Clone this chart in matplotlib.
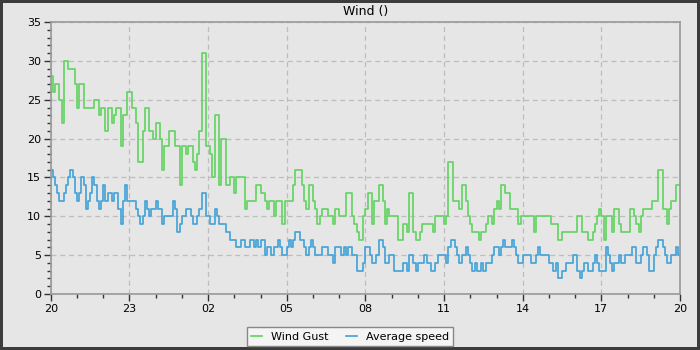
import numpy as np
import pandas as pd
import matplotlib
matplotlib.use('Agg')
import matplotlib.pyplot as plt
import matplotlib.dates as mdates
from matplotlib.ticker import MultipleLocator

# 5 minute samples, one row per hour (20h .. 19h)
gust = [
    28, 26, 27, 27, 25, 22, 30, 30, 29, 29, 29, 27,
    24, 27, 27, 24, 24, 24, 24, 24, 25, 25, 23, 24,
    24, 21, 24, 24, 22, 23, 24, 24, 19, 23, 23, 26,
    26, 24, 24, 22, 17, 17, 21, 24, 24, 21, 21, 20,
    22, 22, 20, 16, 19, 19, 21, 21, 21, 19, 19, 14,
    19, 19, 18, 19, 19, 17, 16, 18, 21, 31, 31, 19,
    19, 18, 15, 23, 23, 14, 20, 20, 14, 14, 15, 15,
    13, 15, 15, 15, 15, 11, 12, 12, 12, 12, 14, 14,
    13, 13, 12, 11, 12, 12, 10, 12, 12, 12, 9, 12,
    12, 12, 12, 14, 16, 16, 16, 14, 12, 11, 14, 14,
    12, 11, 9, 10, 11, 11, 11, 10, 10, 9, 11, 11,
    10, 10, 10, 13, 13, 13, 10, 9, 8, 7, 7, 10,
    11, 13, 13, 9, 12, 12, 14, 14, 12, 9, 11, 10,
    10, 10, 10, 7, 7, 9, 9, 8, 13, 13, 8, 7,
    7, 8, 9, 9, 9, 9, 9, 8, 10, 10, 10, 10,
    9, 10, 17, 17, 12, 12, 12, 11, 14, 14, 12, 10,
    9, 8, 8, 8, 7, 8, 8, 9, 10, 10, 9, 11,
    12, 11, 14, 14, 13, 13, 11, 11, 11, 11, 9, 10,
    10, 10, 10, 10, 10, 8, 10, 10, 10, 10, 10, 10,
    10, 9, 9, 9, 7, 7, 8, 8, 8, 8, 8, 8,
    8, 10, 10, 8, 8, 8, 7, 7, 8, 9, 10, 11,
    10, 7, 10, 10, 10, 8, 11, 11, 9, 8, 8, 8,
    8, 11, 11, 10, 9, 8, 10, 11, 11, 11, 11, 12,
    12, 12, 16, 16, 11, 11, 9, 11, 12, 12, 14, 14,
]

avg_speed = [
    16, 15, 14, 13, 12, 12, 13, 14, 15, 16, 15, 13,
    12, 13, 15, 14, 11, 12, 13, 15, 14, 12, 11, 12,
    14, 12, 13, 13, 12, 13, 13, 11, 9, 12, 14, 12,
    12, 12, 12, 11, 10, 9, 10, 12, 11, 10, 11, 11,
    12, 11, 11, 9, 10, 10, 10, 10, 12, 11, 8, 9,
    10, 10, 11, 11, 10, 9, 9, 10, 11, 13, 13, 10,
    10, 9, 9, 11, 10, 9, 9, 9, 8, 8, 7, 7,
    7, 6, 6, 7, 7, 6, 6, 7, 7, 6, 7, 6,
    7, 7, 5, 6, 6, 5, 6, 6, 7, 6, 5, 5,
    6, 7, 6, 7, 8, 8, 7, 7, 6, 5, 6, 7,
    6, 5, 5, 5, 6, 6, 6, 5, 5, 4, 6, 6,
    6, 5, 6, 5, 6, 6, 5, 5, 3, 3, 3, 4,
    6, 6, 5, 4, 4, 5, 7, 7, 6, 4, 4, 5,
    5, 3, 3, 3, 3, 4, 4, 3, 5, 5, 4, 3,
    4, 4, 4, 5, 4, 4, 3, 3, 4, 5, 5, 5,
    5, 4, 6, 7, 7, 6, 5, 4, 5, 5, 6, 5,
    4, 3, 4, 3, 3, 4, 3, 4, 4, 4, 5, 6,
    6, 5, 6, 7, 6, 6, 6, 7, 6, 5, 4, 4,
    5, 5, 5, 5, 4, 4, 5, 6, 5, 5, 5, 5,
    4, 4, 3, 4, 2, 2, 3, 3, 4, 4, 4, 5,
    5, 3, 2, 3, 4, 4, 3, 3, 4, 5, 4, 3,
    3, 3, 6, 5, 4, 3, 4, 4, 5, 4, 4, 5,
    5, 5, 6, 6, 4, 4, 5, 6, 6, 5, 3, 3,
    5, 6, 7, 7, 6, 5, 4, 4, 5, 5, 6, 5,
]

start = pd.Timestamp('2024-05-01 20:00')
times = pd.date_range(start, periods=len(gust) + 1, freq='5min')
gust_s = gust + [gust[-1]]
avg_s = avg_speed + [avg_speed[-1]]

bg = '#e6e6e6'
fig = plt.figure(figsize=(7, 3.5), dpi=100, facecolor=bg)
fig.patch.set_edgecolor('#3c3c3c')
fig.patch.set_linewidth(4)
ax = fig.add_axes([0.0725, 0.16, 0.899, 0.777])
ax.set_facecolor(bg)

ax.step(times, gust_s, where='post', color='#66d466', lw=1.25, label='Wind Gust')
ax.step(times, avg_s, where='post', color='#47a4d9', lw=1.25, label='Average speed')

ax.set_xlim(times[0], times[-1])
ax.set_ylim(0, 35)
ax.yaxis.set_major_locator(MultipleLocator(5))
ax.yaxis.set_minor_locator(MultipleLocator(1))
ax.xaxis.set_major_locator(mdates.HourLocator(byhour=range(2, 24, 3)))
ax.xaxis.set_minor_locator(mdates.HourLocator())
ax.xaxis.set_major_formatter(mdates.DateFormatter('%H'))

ax.grid(True, which='major', color='#bdbdbd', ls=(0, (4, 3)), lw=0.9)
for s in ax.spines.values():
    s.set_color('#999999')
    s.set_linewidth(1.2)
ax.tick_params(which='major', length=5, width=1, color='#333333', labelsize=8, pad=2)
ax.tick_params(which='minor', length=3, width=1, color='#333333')

ax.set_title('Wind ()', fontsize=9, pad=5)

fig.legend(loc='lower center', bbox_to_anchor=(0.5, -0.005), ncol=2, fontsize=8,
           handlelength=1.0, columnspacing=1.5, frameon=True, fancybox=False,
           facecolor='#f4f4f4', edgecolor='#888888', framealpha=1)

fig.savefig('out.png', dpi=100, facecolor=bg, edgecolor=fig.patch.get_edgecolor())
